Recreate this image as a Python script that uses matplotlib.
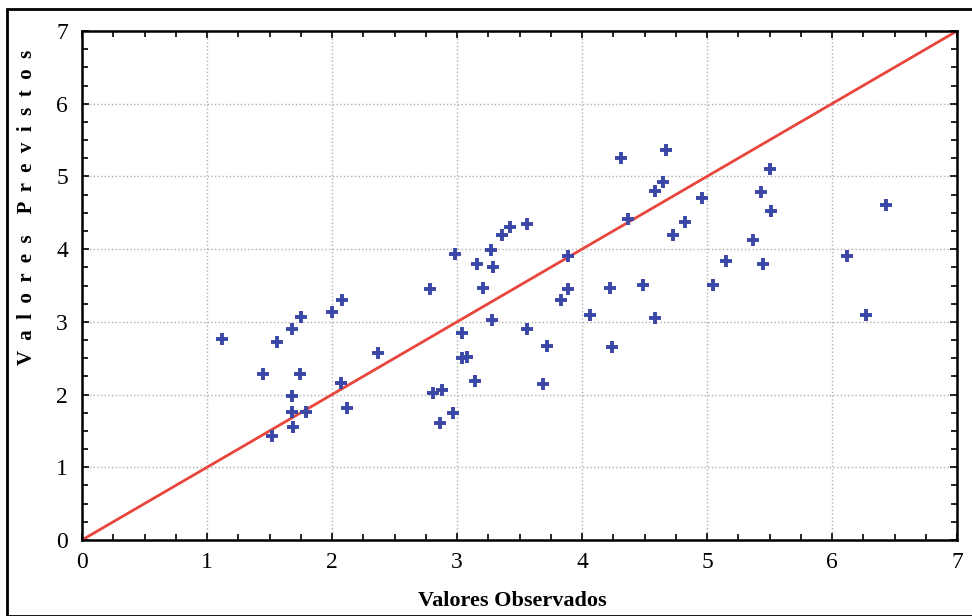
import numpy as np
import matplotlib.pyplot as plt
from matplotlib.patches import Rectangle
from matplotlib.ticker import MultipleLocator

# valores
observados = [1.12, 1.45, 1.56, 1.68, 1.75, 1.74, 1.68, 1.68, 1.79, 1.69, 1.52,
              2.00, 2.08, 2.07, 2.12, 2.37, 2.78, 2.98, 3.16, 3.27, 3.29, 3.21,
              3.36, 3.42, 3.56, 3.89, 3.89, 3.83, 4.06, 3.04, 3.28, 3.56, 3.72,
              3.08, 3.04, 3.14, 3.69, 2.81, 2.88, 2.97, 2.86, 4.31, 4.67, 4.65,
              4.58, 4.96, 4.37, 4.82, 4.73, 4.22, 4.49, 4.58, 4.24, 5.50, 5.43,
              5.51, 5.37, 5.15, 5.45, 5.05, 6.43, 6.12, 6.27]
previstos = [2.76, 2.28, 2.72, 2.90, 3.07, 2.28, 1.98, 1.76, 1.76, 1.55, 1.43,
             3.14, 3.30, 2.16, 1.81, 2.57, 3.45, 3.94, 3.79, 3.99, 3.76, 3.46,
             4.20, 4.30, 4.35, 3.91, 3.45, 3.30, 3.10, 2.84, 3.03, 2.90, 2.67,
             2.52, 2.50, 2.19, 2.15, 2.02, 2.06, 1.74, 1.61, 5.25, 5.37, 4.93,
             4.80, 4.70, 4.42, 4.37, 4.19, 3.46, 3.51, 3.05, 2.65, 5.10, 4.78,
             4.53, 4.13, 3.84, 3.79, 3.51, 4.61, 3.90, 3.09]
linha = [0, 7]
ticks = [0, 1, 2, 3, 4, 5, 6, 7]

plt.rcParams['font.family'] = ['Liberation Serif', 'DejaVu Serif']

fig = plt.figure(figsize=(9.72, 6.16), dpi=100)
ax = fig.add_axes([82/972, 1 - 540/616, (957 - 82)/972, (540 - 31)/616])

# moldura externa
fig.patches.append(Rectangle((7/972, 0), 1.0, 1 - 9/616, transform=fig.transFigure,
                             fill=False, edgecolor='black', linewidth=2))

ax.plot(linha, linha, color='#e8453c', linewidth=2, zorder=2)
ax.plot(observados, previstos, linestyle='none', marker='+', markersize=9,
        markeredgewidth=2.8, color='#3b47a6', zorder=3)

ax.set_xlim(0, 7)
ax.set_ylim(0, 7)
ax.set_xticks(ticks)
ax.set_yticks(ticks)
ax.xaxis.set_minor_locator(MultipleLocator(0.25))
ax.yaxis.set_minor_locator(MultipleLocator(0.25))
ax.tick_params(which='both', direction='in', top=True, right=True, width=1.2)
ax.tick_params(which='major', length=5, labelsize=17)
ax.tick_params(axis='x', which='major', pad=9)
ax.tick_params(axis='y', which='major', pad=10)
ax.tick_params(which='minor', length=4)
ax.grid(True, which='major', linestyle=':', color='#b0b0b0', linewidth=1)
for s in ax.spines.values():
    s.set_linewidth(1.8)

fig.text(512/972, 1 - 601/616, 'Valores Observados', fontsize=16,
         fontweight='bold', ha='center', va='center')
fig.text(27/972, 1 - 207/616, 'V  a  l  o  r  e  s    P  r  e  v  i  s  t  o  s',
         fontsize=15, fontweight='bold', rotation=90, ha='center', va='center')

fig.savefig('out.png', dpi=100)
